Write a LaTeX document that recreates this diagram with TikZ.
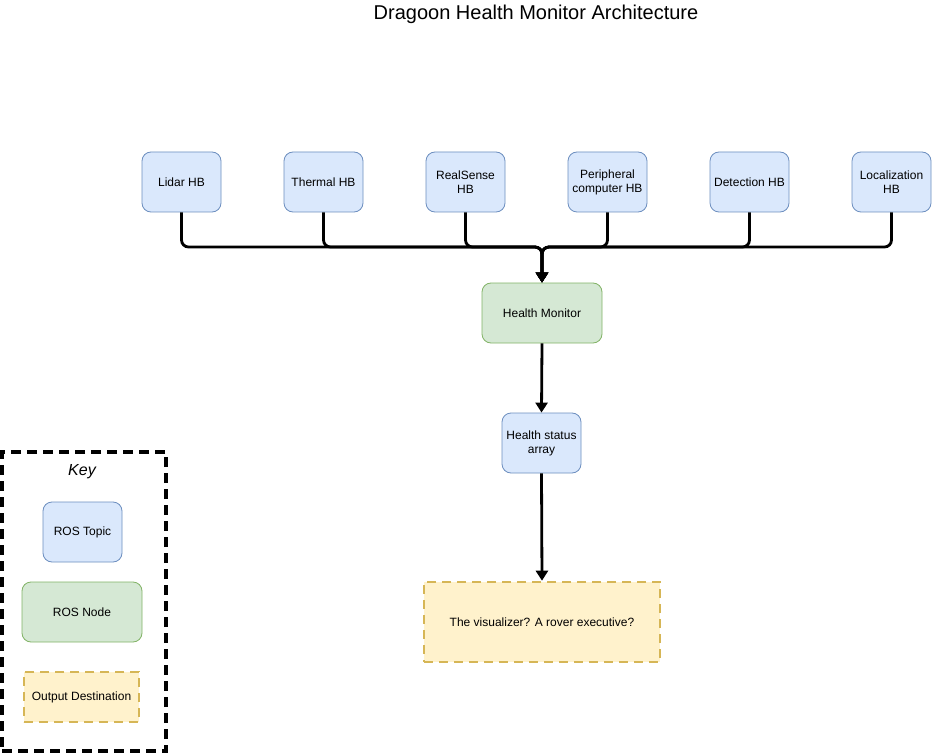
\documentclass[tikz,border=0pt]{standalone}
\usepackage{fontspec}
\setmainfont{Liberation Sans}
\usetikzlibrary{arrows.meta}
\definecolor{topicfill}{HTML}{DAE8FC}
\definecolor{topicdraw}{HTML}{6C8EBF}
\definecolor{nodefill}{HTML}{D5E8D4}
\definecolor{nodedraw}{HTML}{82B366}
\definecolor{outfill}{HTML}{FFF2CC}
\definecolor{outdraw}{HTML}{D6B656}
\begin{document}
\begin{tikzpicture}[x=1pt,y=-1pt,
  base/.style={font=\fontsize{12}{14}\selectfont, align=center, inner sep=0pt},
  topic/.style={base, draw=topicdraw, fill=topicfill, rounded corners=9pt, minimum width=79pt, minimum height=60pt, line width=0.8pt},
  rosnode/.style={base, draw=nodedraw, fill=nodefill, rounded corners=9pt, minimum width=120pt, minimum height=60pt, line width=0.8pt},
  outdest/.style={base, draw=outdraw, fill=outfill, dash pattern=on 9pt off 6pt, line width=2.6pt},
  conn/.style={line width=2.8pt, rounded corners=7pt, -{Triangle[length=10pt,width=12pt]}},
  keybox/.style={draw=black, dash pattern=on 10pt off 6pt, line width=3.2pt}
]
\useasboundingbox (0,0) rectangle (932,754);
\fill[white] (0,0) rectangle (932,754);

\node[font=\fontsize{20}{23}\selectfont, inner sep=0pt] (title) at (536,14) {Dragoon Health Monitor Architecture};

\node[topic] (lidar) at (181.5,182) {Lidar HB};
\node[topic] (thermal) at (323.5,182) {Thermal HB};
\node[topic] (realsense) at (465.5,182) {RealSense\\HB};
\node[topic] (periph) at (607.5,182) {Peripheral\\computer HB};
\node[topic] (detect) at (749.5,182) {Detection HB};
\node[topic] (local) at (891.5,182) {Localization\\HB};

\node[rosnode] (hm) at (542,313) {Health Monitor};
\node[topic] (hsa) at (541.5,443) {Health status\\array};
\node[outdest, minimum width=236pt, minimum height=80pt] (out) at (542,622) {The visualizer? A rover executive?};

\foreach \n in {lidar,thermal,realsense,periph,detect,local}{
  \draw[conn] (\n.south) -- (\n.south |- 0,247) -- (542,247) -- (hm.north);
}
\draw[conn] (hm.south) -- (hsa.north);
\draw[conn] (hsa.south) -- (out.north);

\node[keybox, minimum width=164pt, minimum height=299pt, inner sep=0pt] (key) at (84,601.5) {};
\node[font=\fontsize{16}{18}\selectfont\itshape, inner sep=0pt] (keylabel) at (82,472) {Key};
\node[topic] (ktopic) at (82.5,532) {ROS Topic};
\node[rosnode] (knode) at (82,612) {ROS Node};
\node[outdest, minimum width=115pt, minimum height=50pt] (kout) at (81.5,697) {Output Destination};
\end{tikzpicture}
\end{document}
